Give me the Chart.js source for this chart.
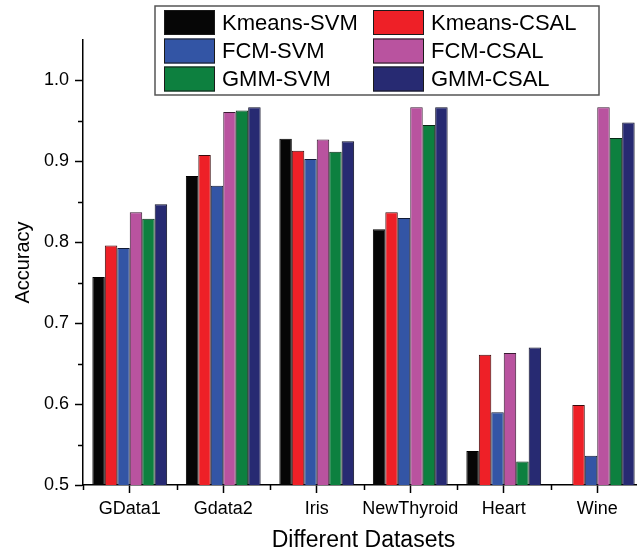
<!DOCTYPE html>
<html>
<head>
<meta charset="utf-8">
<title>Accuracy by dataset</title>
<script src="https://cdn.jsdelivr.net/npm/chart.js@4/dist/chart.umd.min.js"></script>
<style>
  html, body { margin: 0; padding: 0; background: #ffffff; overflow: hidden; }
  canvas { display: block; }
</style>
</head>
<body>
<canvas id="chart" width="646" height="559"></canvas>
<script>
// Datasets on the category axis
const categories = ['GData1', 'Gdata2', 'Iris', 'NewThyroid', 'Heart', 'Wine'];

// Accuracy of each method per dataset
const kmeansSvm  = [0.757, 0.882, 0.928, 0.816, 0.542, 0.500];
const kmeansCsal = [0.796, 0.908, 0.913, 0.837, 0.661, 0.599];
const fcmSvm     = [0.793, 0.870, 0.903, 0.830, 0.590, 0.536];
const fcmCsal    = [0.837, 0.961, 0.927, 0.967, 0.663, 0.967];
const gmmSvm     = [0.829, 0.963, 0.912, 0.945, 0.529, 0.929];
const gmmCsal    = [0.847, 0.967, 0.925, 0.967, 0.670, 0.948];

// Value axis ticks
const yMajorTicks = [0.5, 0.6, 0.7, 0.8, 0.9, 1.0];
const yMinorTicks = [0.55, 0.65, 0.75, 0.85, 0.95];

const FONT = "'Liberation Sans', Arial, sans-serif";

const series = [
  { label: 'Kmeans-SVM',  data: kmeansSvm,  color: '#060606', edge: '#000000' },
  { label: 'Kmeans-CSAL', data: kmeansCsal, color: '#ee2027', edge: '#3a0a0c' },
  { label: 'FCM-SVM',     data: fcmSvm,     color: '#3355a5', edge: '#101a35' },
  { label: 'FCM-CSAL',    data: fcmCsal,    color: '#b9539f', edge: '#3a1a32' },
  { label: 'GMM-SVM',     data: gmmSvm,     color: '#0d803f', edge: '#062814' },
  { label: 'GMM-CSAL',    data: gmmCsal,    color: '#272a72', edge: '#0c0d24' }
];

// Boxed two-column legend drawn over the top of the plot
const boxedLegend = {
  id: 'boxedLegend',
  afterDraw(chart) {
    const ctx = chart.ctx;
    const box = { x: 155, y: 6, w: 444, h: 89 };
    ctx.save();
    ctx.fillStyle = '#ffffff';
    ctx.fillRect(box.x, box.y, box.w, box.h);
    ctx.strokeStyle = '#555555';
    ctx.lineWidth = 1.5;
    ctx.strokeRect(box.x, box.y, box.w, box.h);
    const colX = [164, 373];
    const rowY = [22.5, 51, 79];
    ctx.font = '22px ' + FONT;
    ctx.textBaseline = 'middle';
    ctx.textAlign = 'left';
    chart.data.datasets.forEach((ds, i) => {
      const cx = colX[i % 2];
      const cy = rowY[Math.floor(i / 2)];
      ctx.fillStyle = ds.backgroundColor;
      ctx.fillRect(cx, cy - 12.5, 51, 25);
      ctx.strokeStyle = '#1a1a1a';
      ctx.lineWidth = 1;
      ctx.strokeRect(cx + 0.5, cy - 12, 50, 24);
      ctx.fillStyle = '#000000';
      ctx.fillText(ds.label, cx + 58, cy + 1);
    });
    ctx.restore();
  }
};

// Short minor ticks on both axes
const minorTicks = {
  id: 'minorTicks',
  afterDraw(chart) {
    const ctx = chart.ctx;
    const x = chart.scales.x;
    const y = chart.scales.y;
    const area = chart.chartArea;
    ctx.save();
    ctx.strokeStyle = '#000000';
    ctx.lineWidth = 1.5;
    ctx.beginPath();
    yMinorTicks.forEach(v => {
      const py = Math.round(y.getPixelForValue(v)) + 0.5;
      ctx.moveTo(area.left - 5, py);
      ctx.lineTo(area.left, py);
    });
    const step = x.getPixelForValue(1) - x.getPixelForValue(0);
    for (let i = 0; i <= categories.length; i++) {
      const px = Math.round(x.getPixelForValue(i) - step / 2) + 0.5;
      ctx.moveTo(px, area.bottom);
      ctx.lineTo(px, area.bottom + 5);
    }
    ctx.stroke();
    ctx.restore();
  }
};

new Chart(document.getElementById('chart'), {
  type: 'bar',
  data: {
    labels: categories,
    datasets: series.map(s => ({
      label: s.label,
      data: s.data,
      backgroundColor: s.color,
      borderColor: s.edge,
      borderWidth: 1,
      borderSkipped: 'start',
      categoryPercentage: 0.8,
      barPercentage: 1.0
    }))
  },
  options: {
    responsive: false,
    devicePixelRatio: 1,
    animation: false,
    layout: { padding: { top: 40, right: 2, bottom: 0, left: 0 } },
    plugins: {
      legend: { display: false },
      tooltip: { enabled: false }
    },
    scales: {
      x: {
        type: 'category',
        offset: true,
        afterFit: s => { s.height = 74; },
        border: { display: true, color: '#000000', width: 1.5 },
        grid: {
          display: true,
          offset: false,
          drawOnChartArea: false,
          drawTicks: true,
          tickLength: 8,
          tickColor: '#000000',
          tickWidth: 1.5
        },
        ticks: {
          color: '#000000',
          font: { family: FONT, size: 18 },
          padding: 5,
          maxRotation: 0,
          minRotation: 0,
          autoSkip: false
        },
        title: {
          display: true,
          text: 'Different Datasets',
          color: '#000000',
          font: { family: FONT, size: 23, lineHeight: 1.2 },
          padding: { top: 0, bottom: 5 }
        }
      },
      y: {
        type: 'linear',
        min: 0.5,
        max: 1.05,
        afterFit: s => { s.width = 83; },
        afterBuildTicks: s => { s.ticks = yMajorTicks.map(v => ({ value: v })); },
        border: { display: true, color: '#000000', width: 1.5 },
        grid: {
          display: true,
          drawOnChartArea: false,
          drawTicks: true,
          tickLength: 8,
          tickColor: '#000000',
          tickWidth: 1.5
        },
        ticks: {
          color: '#000000',
          font: { family: FONT, size: 18 },
          padding: 6,
          callback: v => Number(v).toFixed(1)
        },
        title: {
          display: true,
          text: 'Accuracy',
          color: '#000000',
          font: { family: FONT, size: 20, lineHeight: 1.2 },
          padding: { top: 11, bottom: 0 }
        }
      }
    }
  },
  plugins: [minorTicks, boxedLegend]
});
</script>
</body>
</html>
